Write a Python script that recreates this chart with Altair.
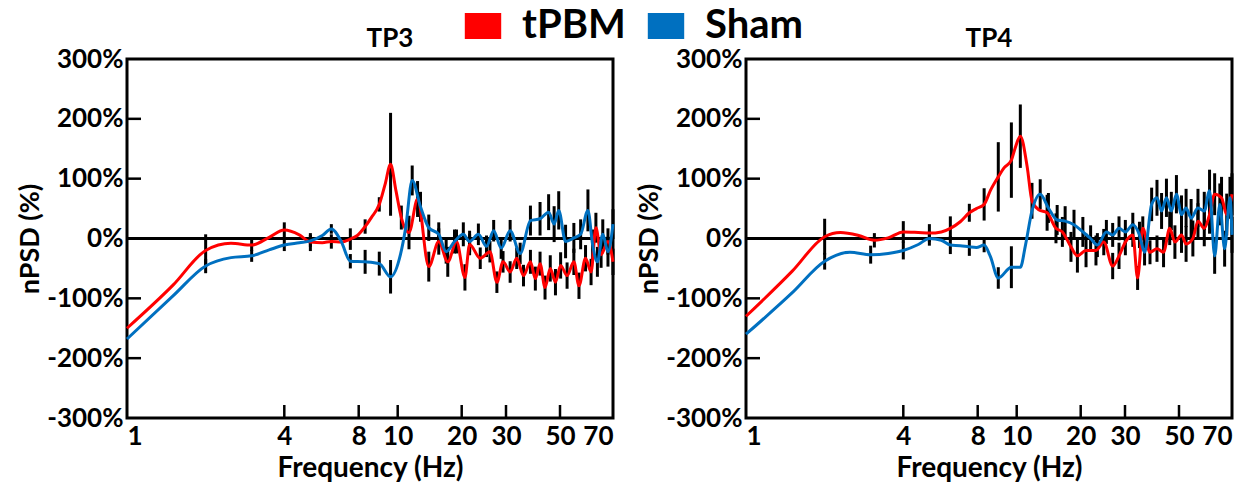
import altair as alt
import pandas as pd

# ---------------- data ----------------
SERIES = ["tPBM", "Sham"]
COLORS = ["#FF0000", "#0070C0"]

y_tick_values = [-300, -200, -100, 0, 100, 200, 300]
x_tick_values = [1, 4, 8, 10, 20, 30, 50, 70]
inner_y_ticks = [-200, -100, 100, 200]
inner_x_ticks = [4, 8, 10, 20, 30, 50]

# the reference's frequency axis is not a uniform log axis: its tick marks sit at these offsets
x_axis_stops = [1, 4, 8, 10, 20, 30, 50, 70]
x_axis_stop_px = [0, 157.3, 231.7, 270.7, 334.7, 379, 433, 486]

# TP3 - tPBM
tp3_tpbm_freq = [1.0, 1.5, 2.0, 2.5, 3.0, 3.5, 4.0, 4.6, 5.1, 5.7, 6.2, 6.8, 7.4, 7.9, 8.3, 8.6, 9.0, 9.3,
                 9.6, 9.9, 10.4, 11.3, 12.4, 14.0, 15.6, 17.2, 18.9, 20.6, 21.5, 23.7, 25.9, 27.6, 29.2,
                 31.2, 33.2, 35.4, 37.8, 39.6, 41.4, 43.4, 45.6, 47.9, 50.2, 52.3, 54.6, 56.4, 58.8, 60.9,
                 62.8, 64.9, 67.8, 70.0]
tp3_tpbm_val = [-150, -78, -20, -8, -11, 2, 14, 6, -6, -7, -5, -6, -1, 5, 20, 35, 57, 90,
                124, 80, 35, 10, 66, -47, -5, -39, -5, -65, -10, -33, -22, -73, -39,
                -56, -33, -62, -39, -67, -42, -82, -50, -73, -45, -62, -39, -79, -33, -56,
                18, -27, -5, -39]
tp3_tpbm_sem = [0, 0, 27, 0, 10, 0, 13, 0, 15, 0, 12, 0, 18, 0, 12, 0, 12, 0,
                86, 0, 20, 28, 30, 25, 22, 25, 20, 22, 18, 18, 18, 18, 18,
                18, 18, 18, 20, 20, 20, 20, 22, 22, 22, 22, 22, 22, 22, 22,
                25, 22, 22, 22]

# TP3 - Sham
tp3_sham_freq = [1.0, 1.5, 2.0, 2.5, 3.0, 3.5, 4.0, 4.6, 5.1, 5.7, 6.2, 6.8, 7.4, 8.3, 9.0, 9.6,
                 10.3, 10.9, 11.7, 12.8, 14.0, 15.6, 16.9, 18.5, 20.3, 21.5, 23.3, 25.1, 26.8, 28.7,
                 31.2, 34.3, 37.8, 41.4, 44.9, 47.3, 49.4, 51.8, 54.6, 57.0, 59.7, 61.5, 63.4, 65.6,
                 67.8, 70.0]
tp3_sham_val = [-168, -96, -46, -32, -29, -19, -11, -7, -4, 5, 16, -5, -38, -39, -42, -64,
                -27, 18, 97, 53, 18, 7, -22, -5, 7, -5, 7, -13, 13, -16,
                13, -25, 30, 33, 44, 24, 47, -5, 1, 7, 47, -10, -39, 7,
                -22, 24]
tp3_sham_sem = [0, 0, 12, 0, 10, 0, 10, 0, 10, 0, 8, 0, 12, 20, 20, 28,
                0, 0, 25, 25, 22, 20, 20, 20, 20, 18, 18, 18, 18, 18,
                18, 18, 25, 28, 30, 30, 32, 28, 25, 25, 35, 25, 25, 25,
                25, 25]

# TP4 - tPBM
tp4_tpbm_freq = [1.0, 1.5, 2.0, 2.3, 2.7, 3.1, 3.5, 4.0, 4.6, 5.1, 5.7, 6.2, 6.8, 7.4, 7.9, 8.3, 8.6,
                 9.0, 9.3, 9.7, 9.9, 10.4, 11.2, 11.8, 12.7, 13.9, 15.3, 16.4, 18.0, 19.3, 21.0,
                 23.0, 24.7, 26.8, 28.4, 30.1, 32.3, 33.8, 35.5, 38.0, 40.6, 43.2, 45.8, 48.1, 50.8,
                 52.3, 54.6, 56.4, 58.7, 60.7, 62.7, 65.5, 67.7, 70.0]
tp4_tpbm_val = [-130, -55, 3, 10, 5, -3, 1, 11, 10, 9, 11, 17, 28, 43, 50, 57, 80,
                103, 118, 131, 150, 171, 120, 63, 48, 43, 17, 11, -14, -29, -20,
                -20, -6, -46, -29, -6, 6, -66, 17, -23, -17, -23, 17, -6, 6,
                -9, 0, 29, 17, 40, 74, 68, 40, 74]
tp4_tpbm_sem = [0, 0, 30, 0, 0, 12, 0, 18, 0, 15, 0, 20, 0, 15, 0, 27, 0,
                58, 0, 63, 0, 53, 0, 30, 0, 30, 25, 25, 25, 28, 28,
                25, 22, 22, 22, 22, 20, 20, 20, 20, 22, 25, 28, 28, 30,
                30, 30, 30, 30, 32, 35, 35, 35, 35]

# TP4 - Sham
tp4_sham_freq = [1.0, 1.5, 2.0, 2.5, 3.0, 3.5, 4.0, 4.6, 5.1, 5.7, 6.2, 6.8, 7.4, 7.9, 8.3, 8.6, 9.0,
                 9.7, 10.4, 11.0, 11.8, 12.9, 14.1, 15.5, 16.9, 18.6, 20.4, 21.9, 23.3, 25.3, 26.8,
                 28.4, 30.1, 32.3, 34.4, 36.1, 38.6, 40.6, 42.4, 44.4, 46.5, 48.8, 50.8, 52.3, 54.0,
                 56.4, 58.7, 60.7, 62.7, 64.8, 66.8, 69.1, 70.0]
tp4_sham_val = [-160, -91, -38, -23, -27, -25, -20, -10, 0, -3, -11, -12, -14, -15, -11, -30, -66,
                -48, -48, -11, 46, 74, 51, 31, 29, 23, 11, 0, -11, 11, 6,
                17, 11, 23, 6, -23, 57, 68, 46, 68, 46, 74, 40, 51, 34,
                51, 46, 80, -29, 57, -17, 68, 6]
tp4_sham_sem = [0, 0, 14, 0, 15, 0, 15, 0, 12, 0, 15, 0, 15, 0, 12, 0, 18,
                35, 0, 0, 0, 25, 25, 25, 25, 25, 25, 22, 20, 20, 20,
                20, 20, 20, 22, 22, 28, 30, 30, 32, 32, 32, 32, 32, 32,
                32, 32, 35, 30, 35, 30, 35, 30]


def make_frame(parts):
    rows = []
    for name, freqs, vals, sems in parts:
        for f, v, e in zip(freqs, vals, sems):
            rows.append({"series": name, "freq": f, "val": v, "sem": e,
                         "lo": v - e, "hi": v + e})
    return pd.DataFrame(rows)


tp3_df = make_frame([("tPBM", tp3_tpbm_freq, tp3_tpbm_val, tp3_tpbm_sem),
                     ("Sham", tp3_sham_freq, tp3_sham_val, tp3_sham_sem)])
tp4_df = make_frame([("tPBM", tp4_tpbm_freq, tp4_tpbm_val, tp4_tpbm_sem),
                     ("Sham", tp4_sham_freq, tp4_sham_val, tp4_sham_sem)])

# ---------------- chart ----------------
W, H = 486, 359
FONT = "Lato"
RECT = "M-1.4,-1L1.4,-1L1.4,1L-1.4,1Z"

xscale = alt.Scale(type="log", domain=x_axis_stops, range=x_axis_stop_px, nice=False)
yscale = alt.Scale(domain=[-300, 300], nice=False)
cscale = alt.Scale(domain=SERIES, range=COLORS)

x_axis = alt.Axis(values=x_tick_values, ticks=False, domain=False, grid=False,
                  labelFlush=True, labelOverlap=False, labelPadding=5, titlePadding=5,
                  labelFontSize=26, titleFontSize=28)
y_axis = alt.Axis(values=y_tick_values, ticks=False, domain=False, grid=False,
                  labelExpr="datum.value + '%'", labelPadding=4, titlePadding=2,
                  labelFontSize=26, titleFontSize=27)

XT = "Frequency (Hz)"
YT = "nPSD (%)"

legend = alt.Legend(title=None, orient="none", legendX=336, legendY=-53,
                    direction="horizontal", symbolType=RECT, symbolSize=676,
                    symbolStrokeWidth=0, labelFontSize=40, labelFont=FONT,
                    labelFontWeight="bold", labelColor="black", labelOffset=19,
                    columnPadding=20, padding=0)


def panel(df, title, with_legend, title_dx):
    base = alt.Chart(df)
    xe = alt.X("freq:Q", scale=xscale, axis=x_axis, title=XT)
    ye = alt.Y("val:Q", scale=yscale, axis=y_axis, title=YT)
    layers = []
    if with_legend:
        # empty layer whose only job is to carry the filled square legend
        key = base.transform_filter("false").mark_point(
            filled=True, shape=RECT, size=676, opacity=1
        ).encode(
            x=xe, y=ye,
            color=alt.Color("series:N", scale=cscale, legend=legend),
        )
        layers.append(key)
    bars = base.transform_filter("datum.sem > 0").mark_rule(
        color="black", strokeWidth=3
    ).encode(
        x=xe,
        y=alt.Y("lo:Q", scale=yscale, axis=y_axis, title=YT),
        y2="hi:Q",
    )
    zero = alt.Chart(pd.DataFrame({"v": [0]})).mark_rule(
        color="black", strokeWidth=3
    ).encode(y=alt.Y("v:Q", scale=yscale, axis=y_axis, title=YT))
    lines = base.mark_line(strokeWidth=3, interpolate="monotone").encode(
        x=xe, y=ye,
        color=alt.Color("series:N", scale=cscale),
    )
    ytk = alt.Chart(pd.DataFrame({"v": inner_y_ticks})).mark_rule(
        color="black", strokeWidth=2.5
    ).encode(
        y=alt.Y("v:Q", scale=yscale, axis=y_axis, title=YT),
        x=alt.value(0), x2=alt.value(14),
    )
    xtk = alt.Chart(pd.DataFrame({"f": inner_x_ticks})).mark_rule(
        color="black", strokeWidth=2.5
    ).encode(
        x=alt.X("f:Q", scale=xscale, axis=x_axis, title=XT),
        y=alt.value(H), y2=alt.value(H - 13),
    )
    layers += [bars, zero, lines, ytk, xtk]
    return alt.layer(*layers).properties(
        width=W, height=H,
        title=alt.TitleParams(title, fontSize=26, font=FONT, fontWeight="bold",
                              offset=-6, anchor="middle", color="black", dx=title_dx),
    )


chart = alt.hconcat(panel(tp3_df, "TP3", True, 20), panel(tp4_df, "TP4", False, 0),
                    spacing=13).properties(
    padding={"left": 15, "top": 6, "right": 5, "bottom": 0},
    background="white",
).configure_view(
    stroke="black", strokeWidth=3
).configure_axis(
    labelFont=FONT, labelFontWeight="bold", labelColor="black",
    titleFont=FONT, titleFontWeight="bold", titleColor="black",
)

chart.save("out.html", embed_options={"renderer": "svg", "actions": False})
